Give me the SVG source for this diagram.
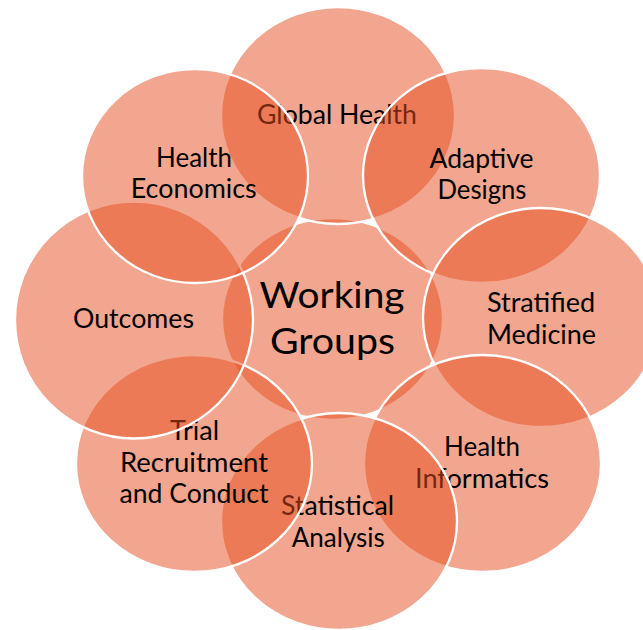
<svg xmlns="http://www.w3.org/2000/svg" width="643" height="630" viewBox="0 0 643 630">
<style>
.c{fill:#E64E20;fill-opacity:0.5;stroke:#FFFFFF;stroke-width:2.3}
.t{font-family:Lato,"Open Sans","DejaVu Sans",sans-serif;font-size:27px;fill:#000000;text-anchor:middle}
.big{font-size:37px}
</style>
<rect width="643" height="630" fill="#FFFFFF"/>
<g id="connectors"/>
<g id="working-groups">
<ellipse class="c" cx="332.5" cy="319" rx="110.5" ry="101"/>
<text class="t big" x="332" y="308" textLength="145" lengthAdjust="spacingAndGlyphs">Working</text>
<text class="t big" x="332.5" y="354" textLength="125" lengthAdjust="spacingAndGlyphs">Groups</text>
</g>
<g id="global-health">
<ellipse class="c" cx="338" cy="115.5" rx="117" ry="108.5"/>
<text class="t" x="337" y="124" textLength="160" lengthAdjust="spacingAndGlyphs">Global Health</text>
</g>
<g id="adaptive-designs">
<ellipse class="c" cx="481.5" cy="175.5" rx="118.5" ry="107.5"/>
<text class="t" x="481.5" y="167.5" textLength="104" lengthAdjust="spacingAndGlyphs">Adaptive</text>
<text class="t" x="482" y="198.5" textLength="89" lengthAdjust="spacingAndGlyphs">Designs</text>
</g>
<g id="stratified-medicine">
<ellipse class="c" cx="541" cy="317.5" rx="118" ry="109.5"/>
<text class="t" x="541" y="311.5" textLength="108" lengthAdjust="spacingAndGlyphs">Stratified</text>
<text class="t" x="541.5" y="343.5" textLength="109" lengthAdjust="spacingAndGlyphs">Medicine</text>
</g>
<g id="health-informatics">
<ellipse class="c" cx="482.5" cy="463.5" rx="118.5" ry="108.5"/>
<text class="t" x="482" y="456" textLength="76" lengthAdjust="spacingAndGlyphs">Health</text>
<text class="t" x="482" y="487.5" textLength="134" lengthAdjust="spacingAndGlyphs">Informatics</text>
</g>
<g id="statistical-analysis">
<ellipse class="c" cx="339" cy="521.5" rx="118" ry="108.5"/>
<text class="t" x="337.5" y="515" textLength="113" lengthAdjust="spacingAndGlyphs">Statistical</text>
<text class="t" x="338.3" y="546.5" textLength="93" lengthAdjust="spacingAndGlyphs">Analysis</text>
</g>
<g id="trial-recruitment">
<ellipse class="c" cx="194" cy="463.5" rx="118" ry="108.5"/>
<text class="t" x="194.5" y="439.5" textLength="49" lengthAdjust="spacingAndGlyphs">Trial</text>
<text class="t" x="194" y="471.5" textLength="148" lengthAdjust="spacingAndGlyphs">Recruitment</text>
<text class="t" x="194" y="503.3" textLength="149" lengthAdjust="spacingAndGlyphs">and Conduct</text>
</g>
<g id="outcomes">
<ellipse class="c" cx="134" cy="320" rx="119" ry="118.5"/>
<text class="t" x="133.5" y="327.5" textLength="121" lengthAdjust="spacingAndGlyphs">Outcomes</text>
</g>
<g id="health-economics">
<ellipse class="c" cx="195" cy="176" rx="113" ry="107"/>
<text class="t" x="194" y="167" textLength="76" lengthAdjust="spacingAndGlyphs">Health</text>
<text class="t" x="193.7" y="198.3" textLength="126" lengthAdjust="spacingAndGlyphs">Economics</text>
</g>
</svg>
